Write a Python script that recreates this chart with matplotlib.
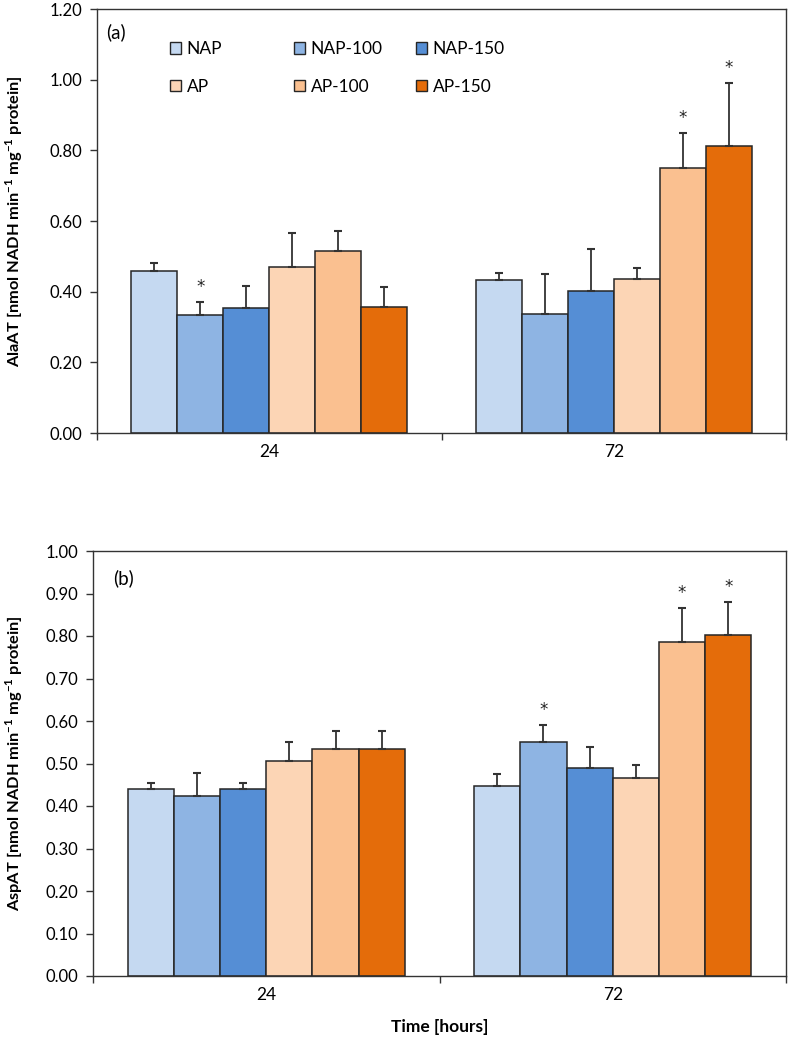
import numpy as np
import matplotlib
matplotlib.use('Agg')
import matplotlib.pyplot as plt
from matplotlib.patches import Patch
from matplotlib.legend import Legend

# data
groups = ['24', '72']
series = ['NAP', 'NAP-100', 'NAP-150', 'AP', 'AP-100', 'AP-150']
colors = ['#C5D9F1', '#8EB4E3', '#558ED5', '#FCD5B5', '#FAC090', '#E46C0A']

# (a) AlaAT, one row per series, columns = 24 h, 72 h
ala_mean = [[0.458, 0.432], [0.333, 0.338], [0.354, 0.401],
            [0.469, 0.436], [0.516, 0.749], [0.358, 0.813]]
ala_err = [[0.024, 0.022], [0.037, 0.113], [0.063, 0.121],
           [0.096, 0.030], [0.055, 0.099], [0.054, 0.178]]
ala_sig = [[0, 0], [1, 0], [0, 0], [0, 0], [0, 1], [0, 1]]

# (b) AspAT
asp_mean = [[0.439, 0.448], [0.423, 0.550], [0.440, 0.489],
            [0.506, 0.466], [0.535, 0.786], [0.535, 0.802]]
asp_err = [[0.016, 0.027], [0.055, 0.040], [0.013, 0.050],
           [0.044, 0.031], [0.041, 0.080], [0.041, 0.077]]
asp_sig = [[0, 0], [0, 1], [0, 0], [0, 0], [0, 1], [0, 1]]

plt.rcParams['font.family'] = ['Lato', 'DejaVu Sans']
plt.rcParams['mathtext.fontset'] = 'custom'
plt.rcParams['mathtext.rm'] = 'Lato'
plt.rcParams['mathtext.bf'] = 'Lato:bold'

W, H = 789, 1040
fig = plt.figure(figsize=(W / 100, H / 100), dpi=100)
ax_a = fig.add_axes([97 / W, 1 - 433 / H, 689 / W, 424 / H])
ax_b = fig.add_axes([93 / W, 1 - 976 / H, 693 / W, 425 / H])

edge = '#262626'
n = len(series)
bw = 0.8 / n
x = np.arange(len(groups))


def draw_panel(ax, means, errs, sig, ymax, ystep, tag, tag_xy):
    for i in range(n):
        pos = x - 0.4 + bw * (i + 0.5)
        ax.bar(pos, means[i], bw, color=colors[i], edgecolor=edge,
               linewidth=1.1, zorder=2)
        ax.errorbar(pos, means[i], yerr=[np.zeros(len(groups)), errs[i]],
                    fmt='none', ecolor='#333333', elinewidth=1.3,
                    capsize=3, capthick=1.5, zorder=3)
        for j in range(len(groups)):
            if sig[i][j]:
                ax.annotate('*', (pos[j], means[i][j] + errs[i][j]),
                            xytext=(0, 11), textcoords='offset points',
                            ha='center', va='center', fontsize=12,
                            family='DejaVu Sans', color='#222222')
    ax.set_xlim(-0.5, len(groups) - 0.5)
    ax.set_ylim(0, ymax)
    ax.set_yticks(np.arange(0, ymax + ystep / 2, ystep))
    ax.yaxis.set_major_formatter(plt.FormatStrFormatter('%.2f'))
    # excel style: tick marks between categories, labels at centres
    ax.set_xticks(np.arange(-0.5, len(groups), 1.0))
    ax.set_xticklabels([])
    ax.set_xticks(x, minor=True)
    ax.set_xticklabels(groups, minor=True)
    ax.tick_params(axis='x', which='major', direction='out', length=5,
                   width=1, color='#333333')
    ax.tick_params(axis='x', which='minor', length=0, pad=8, labelsize=12.5)
    ax.tick_params(axis='y', direction='out', length=5, width=1,
                   color='#333333', labelsize=12, pad=5.5)
    for s in ax.spines.values():
        s.set_color('#333333')
        s.set_linewidth(1.0)
    ax.text(tag_xy[0], tag_xy[1], tag, transform=ax.transAxes, fontsize=13.5,
            va='center', ha='left')


draw_panel(ax_a, ala_mean, ala_err, ala_sig, 1.2, 0.2, '(a)', (0.013, 0.945))
draw_panel(ax_b, asp_mean, asp_err, asp_sig, 1.0, 0.1, '(b)', (0.029, 0.937))

ylab = '[nmol NADH min$^{\\mathbf{-1}}$ mg$^{\\mathbf{-1}}$ protein]'
fig.text(14 / W, 1 - 221 / H, 'AlaAT ' + ylab, rotation=90, ha='center',
         va='center', fontsize=11.8, fontweight='bold')
fig.text(14 / W, 1 - 763 / H, 'AspAT ' + ylab, rotation=90, ha='center',
         va='center', fontsize=11.8, fontweight='bold')
ax_b.set_xlabel('Time [hours]', fontsize=12.5, fontweight='bold')
ax_b.xaxis.set_label_coords(0.5, -0.102)

# legend: three columns of two entries, equal column spacing like excel
col_x = [170, 294, 416]
for c in range(3):
    idx = [c, c + 3]
    handles = [Patch(facecolor=colors[k], edgecolor=edge, linewidth=1.0)
               for k in idx]
    leg = Legend(ax_a, handles, [series[k] for k in idx], loc='upper left',
                 bbox_to_anchor=(col_x[c] / W, 1 - 41 / H),
                 bbox_transform=fig.transFigure, frameon=False,
                 fontsize=12.5, handlelength=0.65, handleheight=0.65,
                 handletextpad=0.3, labelspacing=1.25,
                 borderpad=0, borderaxespad=0)
    ax_a.add_artist(leg)

fig.savefig('out.png', dpi=100)
